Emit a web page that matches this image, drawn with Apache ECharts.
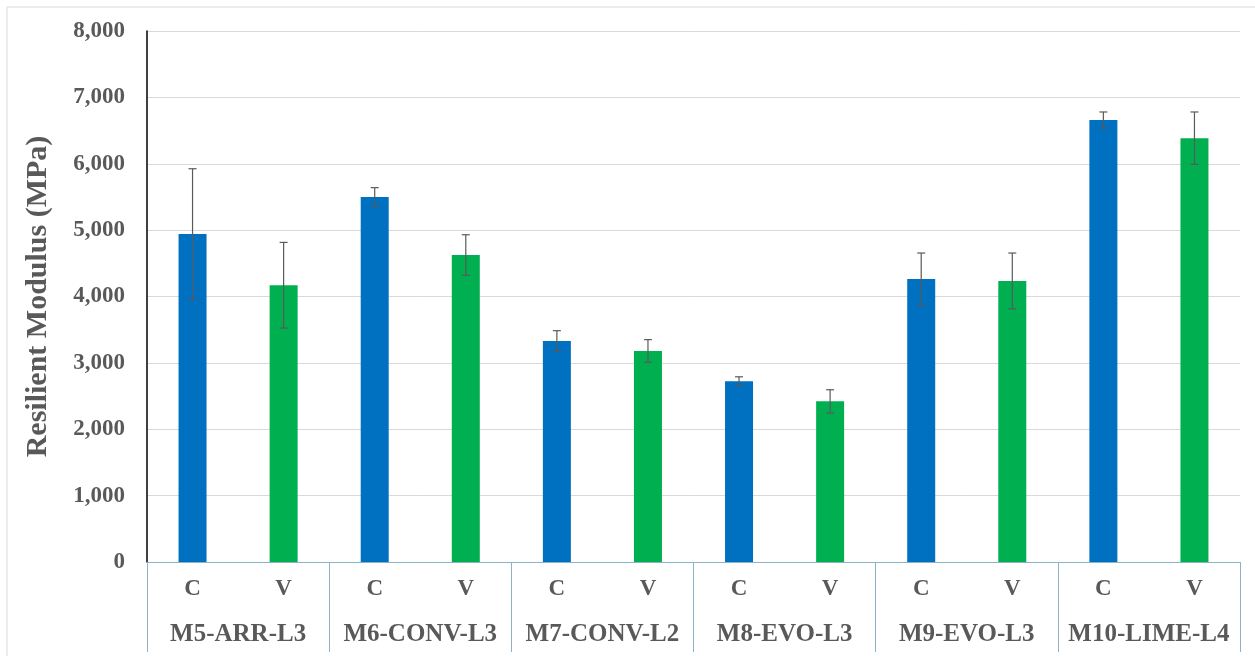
<!DOCTYPE html>
<html>
<head>
<meta charset="utf-8">
<script src="https://cdn.jsdelivr.net/npm/echarts@6/dist/echarts.min.js"></script>
<style>
  html, body { margin: 0; padding: 0; background: #ffffff; }
  #chart { width: 1255px; height: 656px; }
</style>
</head>
<body>
<div id="chart"></div>
<script>
// Mixes and the two conditions tested for each
const groups = ['M5-ARR-L3', 'M6-CONV-L3', 'M7-CONV-L2', 'M8-EVO-L3', 'M9-EVO-L3', 'M10-LIME-L4'];
const sides = ['C', 'V'];

// Mean resilient modulus (MPa)
const cValues = [4940, 5500, 3330, 2725, 4265, 6660];
const vValues = [4170, 4625, 3180, 2420, 4235, 6385];

// Error bar half-widths (MPa)
const cErrors = [985, 140, 155, 65, 390, 120];
const vErrors = [645, 305, 170, 175, 420, 395];

const yTicks = { min: 0, max: 8000, interval: 1000 };

const textColor = '#595959';
const fontFamily = '"Liberation Serif", "Times New Roman", serif';
const colorC = '#0070C0';
const colorV = '#00B050';
const axisBlue = '#8DB3C7';

// One category per bar: C and V for every mix
const categories = [];
const barData = [];
const errData = [];
groups.forEach((g, i) => {
  [[cValues[i], cErrors[i], colorC], [vValues[i], vErrors[i], colorV]].forEach(([v, e, col], k) => {
    const idx = categories.length;
    categories.push(sides[k]);
    barData.push({ value: v, itemStyle: { color: col } });
    errData.push([idx, v - e, v + e]);
  });
});

const chart = echarts.init(document.getElementById('chart'), null, { renderer: 'canvas' });

chart.setOption({
  backgroundColor: '#ffffff',
  animation: false,
  graphic: [{
    type: 'rect',
    shape: { x: 7, y: 7, width: 1260, height: 660 },
    style: { fill: 'none', stroke: '#d9d9d9', lineWidth: 1 },
    silent: true
  }],
  grid: { left: 147, right: 15, top: 31, bottom: 94, containLabel: false },
  xAxis: [{
    type: 'category',
    data: categories,
    position: 'bottom',
    axisLine: { show: true, lineStyle: { color: axisBlue, width: 1 } },
    axisTick: { show: false },
    axisLabel: {
      color: textColor, fontFamily: fontFamily, fontWeight: 'bold', fontSize: 23,
      margin: 16, interval: 0
    },
    splitLine: { show: false }
  }, {
    type: 'category',
    data: groups,
    position: 'bottom',
    axisLine: { show: false },
    axisTick: { show: true, length: 90, lineStyle: { color: axisBlue, width: 1 } },
    axisLabel: {
      color: textColor, fontFamily: fontFamily, fontWeight: 'bold', fontSize: 25,
      margin: 60, interval: 0
    },
    splitLine: { show: false }
  }],
  yAxis: {
    type: 'value',
    min: yTicks.min, max: yTicks.max, interval: yTicks.interval,
    name: 'Resilient Modulus (MPa)',
    nameLocation: 'middle',
    nameGap: 94,
    nameRotate: 90,
    nameTextStyle: { color: textColor, fontFamily: fontFamily, fontWeight: 'bold', fontSize: 30 },
    axisLine: { show: true, lineStyle: { color: '#000000', width: 1.5 } },
    axisTick: { show: false },
    axisLabel: {
      color: textColor, fontFamily: fontFamily, fontWeight: 'bold', fontSize: 23, margin: 22,
      formatter: v => v.toLocaleString('en-US')
    },
    splitLine: { show: true, lineStyle: { color: '#d9d9d9', width: 1 } }
  },
  series: [{
    type: 'bar',
    xAxisIndex: 0,
    data: barData,
    barWidth: 28,
    z: 2
  }, {
    type: 'custom',
    xAxisIndex: 0,
    data: errData,
    z: 3,
    renderItem: function (params, api) {
      const x = api.value(0);
      const lo = api.coord([x, api.value(1)]);
      const hi = api.coord([x, api.value(2)]);
      const cap = 4;
      const style = { stroke: '#5a5a5a', lineWidth: 1.2 };
      return {
        type: 'group',
        children: [
          { type: 'line', shape: { x1: hi[0], y1: hi[1], x2: lo[0], y2: lo[1] }, style: style },
          { type: 'line', shape: { x1: hi[0] - cap, y1: hi[1], x2: hi[0] + cap, y2: hi[1] }, style: style },
          { type: 'line', shape: { x1: lo[0] - cap, y1: lo[1], x2: lo[0] + cap, y2: lo[1] }, style: style }
        ]
      };
    }
  }]
});
</script>
</body>
</html>
